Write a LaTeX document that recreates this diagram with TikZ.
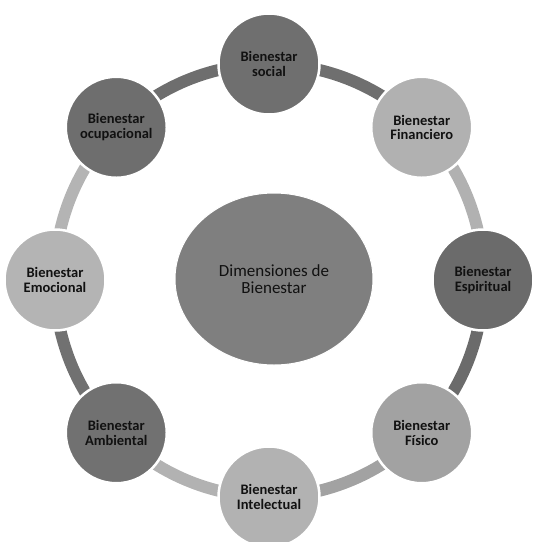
\documentclass[tikz,border=0pt]{standalone}
\usepackage{fontspec}
\setmainfont{Carlito}
\usetikzlibrary{shapes.geometric,backgrounds,calc}
\definecolor{cSoc}{HTML}{6F6F6F}
\definecolor{cFin}{HTML}{B1B1B1}
\definecolor{cEsp}{HTML}{6B6B6B}
\definecolor{cFis}{HTML}{A2A2A2}
\definecolor{cInt}{HTML}{B2B2B2}
\definecolor{cAmb}{HTML}{717171}
\definecolor{cEmo}{HTML}{B4B4B4}
\definecolor{cOcu}{HTML}{6E6E6E}
\definecolor{cCen}{HTML}{7F7F7F}
\definecolor{txt}{HTML}{111111}
\tikzset{
  dim/.style={circle, minimum size=101pt, inner sep=0pt, draw=white, line width=2.5pt,
    text=txt, align=center, font=\fontsize{14.5}{14.5}\selectfont\bfseries},
  center node/.style={ellipse, minimum width=198pt, minimum height=172pt, inner sep=0pt,
    fill=cCen, draw=white, line width=1pt, text=txt, align=center,
    font=\fontsize{17}{17.5}\selectfont},
  ring/.style={line width=12pt, bend left=22.5, looseness=0.885}
}
\begin{document}
\begin{tikzpicture}[x=1pt,y=1pt]
\useasboundingbox (0,0) rectangle (533,-542);
\clip (0,0) rectangle (533,-542);
\coordinate (C) at (269,-280);
\node[center node] (cen) at (274,-279) {Dimensiones de\\Bienestar};
\node[dim, fill=cSoc] (soc) at ($(C)+(90:216)$) {Bienestar\\social};
\node[dim, fill=cFin] (fin) at ($(C)+(45:216)$) {Bienestar\\Financiero};
\node[dim, fill=cEsp] (esp) at ($(C)+(0:214)$) {Bienestar\\Espiritual};
\node[dim, fill=cFis] (fis) at ($(C)+(-45:216)$) {Bienestar\\Físico};
\node[dim, fill=cInt] (int) at ($(C)+(-90:217)$) {Bienestar\\Intelectual};
\node[dim, fill=cAmb] (amb) at ($(C)+(-135:216)$) {Bienestar\\Ambiental};
\node[dim, fill=cEmo] (emo) at ($(C)+(180:214)$) {Bienestar\\Emocional};
\node[dim, fill=cOcu] (ocu) at ($(C)+(135:216)$) {Bienestar\\ocupacional};
\begin{scope}[on background layer]
\draw[ring, cSoc] (soc.center) to (fin.center);
\draw[ring, cFin] (fin.center) to (esp.center);
\draw[ring, cEsp] (esp.center) to (fis.center);
\draw[ring, cFis] (fis.center) to (int.center);
\draw[ring, cInt] (int.center) to (amb.center);
\draw[ring, cAmb] (amb.center) to (emo.center);
\draw[ring, cEmo] (emo.center) to (ocu.center);
\draw[ring, cOcu] (ocu.center) to (soc.center);
\end{scope}
\end{tikzpicture}
\end{document}
